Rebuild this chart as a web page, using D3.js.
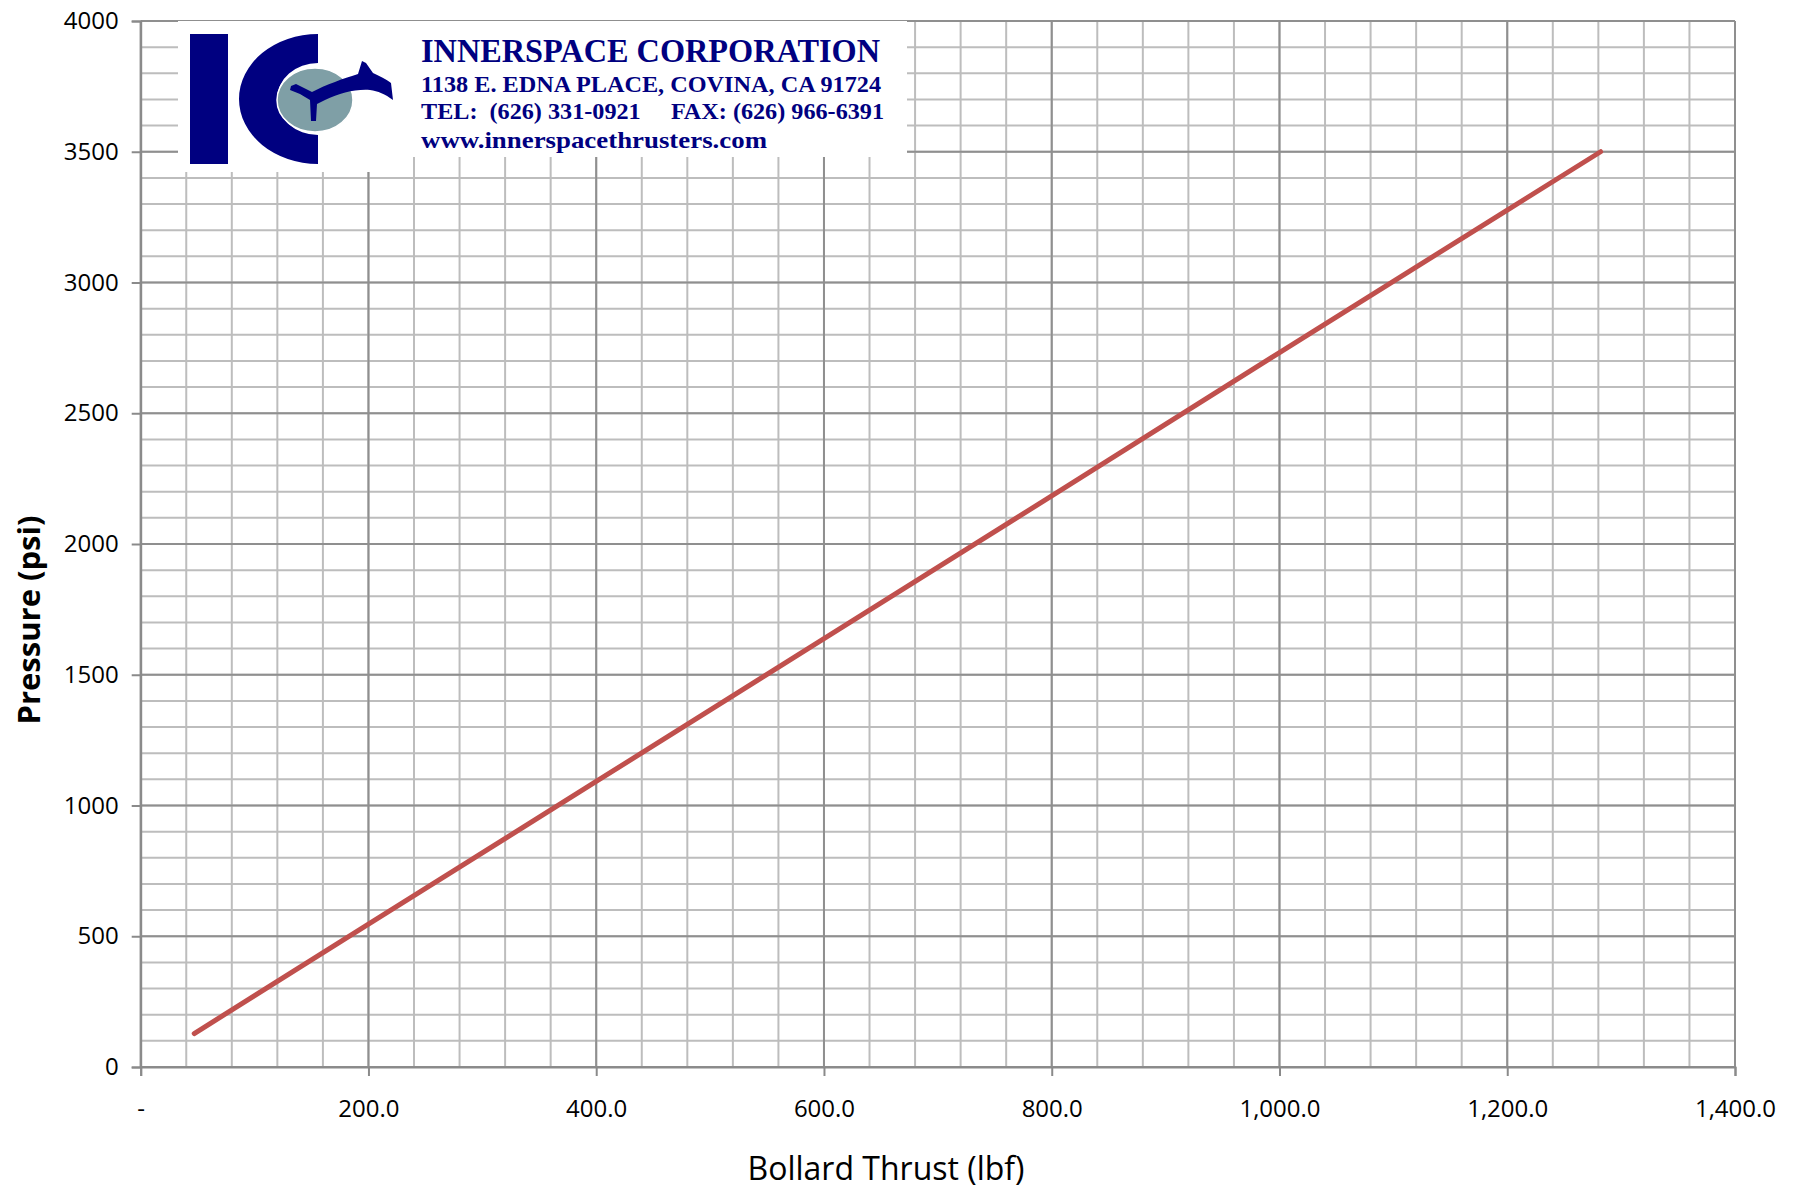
<!doctype html>
<html>
<head>
<style>
  body { margin: 0; background: #fff; }
</style>
<script src="https://d3js.org/d3.v7.min.js"></script>
</head>
<body>
<svg width="1795" height="1191" font-family="Open Sans, DejaVu Sans, sans-serif"></svg>
<script>
// thrust (lbf) vs pressure (psi)
var thrust   = [47, 200, 400, 600, 800, 1000, 1200, 1282];
var pressure = [128, 546, 1092, 1638, 2184, 2732, 3277, 3500];
var xTicks = [0, 200, 400, 600, 800, 1000, 1200, 1400];
var yTicks = [0, 500, 1000, 1500, 2000, 2500, 3000, 3500, 4000];

var svg = d3.select("svg");

var x = d3.scaleLinear().domain([0, 1400]).range([140.7, 1735]),
    y = d3.scaleLinear().domain([0, 4000]).range([1067, 21]);

var grid = svg.append("g");

// minor grid
grid.selectAll(".vmin").data(d3.range(0, 1401, 40)).enter().append("line")
    .attr("x1", d => x(d)).attr("x2", d => x(d))
    .attr("y1", y(0)).attr("y2", y(4000))
    .attr("stroke", "#bdbdbd").attr("stroke-width", 2);
grid.selectAll(".hmin").data(d3.range(0, 4001, 100)).enter().append("line")
    .attr("y1", d => y(d)).attr("y2", d => y(d))
    .attr("x1", x(0)).attr("x2", x(1400))
    .attr("stroke", "#bdbdbd").attr("stroke-width", 2);

// major grid
grid.selectAll(".vmaj").data(xTicks).enter().append("line")
    .attr("x1", d => x(d)).attr("x2", d => x(d))
    .attr("y1", y(0)).attr("y2", y(4000))
    .attr("stroke", "#8f8f8f").attr("stroke-width", 2);
grid.selectAll(".hmaj").data(yTicks).enter().append("line")
    .attr("y1", d => y(d)).attr("y2", d => y(d))
    .attr("x1", x(0)).attr("x2", x(1400))
    .attr("stroke", "#8f8f8f").attr("stroke-width", 2);

// axes
var yAxis = svg.append("g")
    .attr("transform", "translate(" + x(0) + ",0)")
    .call(d3.axisLeft(y).tickValues(yTicks).tickSize(9).tickPadding(13).tickFormat(d3.format("d")));
var xAxis = svg.append("g")
    .attr("transform", "translate(0," + y(0) + ")")
    .call(d3.axisBottom(x).tickValues(xTicks).tickSize(9).tickPadding(24)
        .tickFormat(d => d === 0 ? "-" : d3.format(",.1f")(d)));

[xAxis, yAxis].forEach(function (a) {
  a.attr("font-family", null);
  a.select(".domain").attr("stroke", "#8a8a8a").attr("stroke-width", 2);
  a.selectAll(".tick line").attr("stroke", "#8a8a8a").attr("stroke-width", 2);
  a.selectAll(".tick text").attr("font-size", 24).attr("fill", "#000");
});

// the line
svg.append("path")
   .datum(d3.zip(thrust, pressure))
   .attr("fill", "none")
   .attr("stroke", "#c0504d")
   .attr("stroke-width", 5)
   .attr("stroke-linecap", "round")
   .attr("d", d3.line().x(d => x(d[0])).y(d => y(d[1])));

// axis titles
svg.append("text")
   .attr("x", 886).attr("y", 1180)
   .attr("text-anchor", "middle")
   .attr("font-size", 32)
   .text("Bollard Thrust (lbf)");

svg.append("text")
   .attr("transform", "translate(40,620) rotate(-90)")
   .attr("text-anchor", "middle")
   .attr("font-size", 31)
   .attr("font-weight", "bold")
   .text("Pressure (psi)");

// logo block
var logo = svg.append("g");
logo.append("rect").attr("x", 178).attr("y", 21).attr("width", 235).attr("height", 151).attr("fill", "#fff");
logo.append("rect").attr("x", 413).attr("y", 21).attr("width", 494).attr("height", 136).attr("fill", "#fff");

var navy = "#000080";
logo.append("rect").attr("x", 190).attr("y", 34).attr("width", 38).attr("height", 130).attr("fill", navy);
// C shape
logo.append("path")
    .attr("fill", navy)
    .attr("d", "M318,34 A79,65 0 0 0 318,164 L318,135 A41,36 0 0 1 318,63 Z");
logo.append("ellipse").attr("cx", 315).attr("cy", 100).attr("rx", 38).attr("ry", 32)
    .attr("fill", "#7f9fa6").attr("stroke", "#fff").attr("stroke-width", 1.5);
// dolphin / propeller
logo.append("path")
    .attr("fill", navy)
    .attr("d", "M291,86 L296,84 L312,92 C325,85 345,78 358,74 L362,61 L366,63 L373,73 C380,76 387,80 391,83 L393,100 C385,94 378,91 370,90 C355,89 340,93 325,100 L317,104 L316,121 L311,121 L310,100 L300,94 L290,90 Z");

var serif = "Liberation Serif, DejaVu Serif, serif";
var lines = [
  {t: "INNERSPACE CORPORATION", y: 62, size: 33, w: 459},
  {t: "1138 E. EDNA PLACE, COVINA, CA 91724", y: 92, size: 23, w: 460},
  {t: "TEL:  (626) 331-0921     FAX: (626) 966-6391", y: 119, size: 23, w: 463},
  {t: "www.innerspacethrusters.com", y: 148, size: 23, w: 346}
];
logo.selectAll(".ltxt").data(lines).enter().append("text")
    .attr("x", 421).attr("y", d => d.y)
    .attr("font-family", serif).attr("font-weight", "bold")
    .attr("font-size", d => d.size)
    .attr("fill", navy)
    .attr("textLength", d => d.w)
    .attr("lengthAdjust", "spacingAndGlyphs")
    .style("white-space", "pre")
    .text(d => d.t);
</script>
</body>
</html>
